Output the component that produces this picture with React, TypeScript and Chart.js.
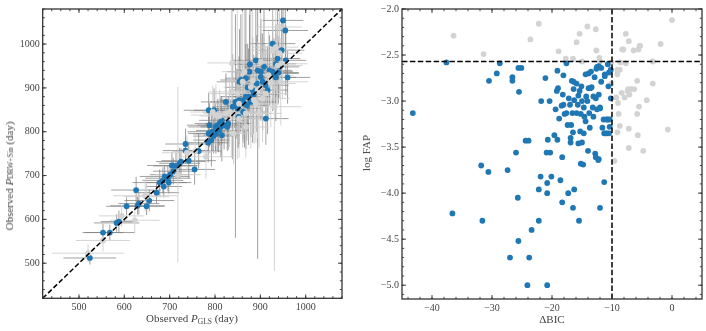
import React, { useEffect, useRef } from "react";
import { Chart, registerables } from "chart.js";
Chart.register(...registerables);

// ---------------- Left panel: observed periods ----------------
const blueGls = [524, 553, 568, 583, 588, 605, 626, 629, 632, 649, 655, 671, 678, 685, 689, 687, 696, 701, 705, 714, 722, 725, 735, 735, 742, 755, 764, 785, 786, 788, 786, 792, 794, 798, 801, 802, 806, 810, 813, 815, 815, 824, 827, 829, 839, 845, 848, 850, 853, 854, 852, 857, 861, 865, 868, 868, 872, 874, 876, 877, 879, 883, 890, 894, 901, 901, 905, 908, 912, 916, 927, 927, 930, 934, 938, 941, 947, 950, 955, 956, 960, 934, 912, 797, 808, 820, 862, 870, 885, 892, 920, 940, 698, 708];
const blueDrw = [512, 570, 570, 592, 595, 630, 667, 631, 636, 630, 643, 661, 684, 689, 698, 675, 694, 702, 723, 722, 728, 732, 772, 757, 734, 714, 756, 775, 849, 815, 796, 781, 800, 849, 811, 795, 815, 819, 811, 826, 792, 868, 811, 819, 857, 868, 864, 853, 872, 914, 834, 918, 872, 864, 880, 922, 901, 880, 937, 954, 868, 895, 963, 940, 937, 925, 914, 948, 830, 895, 1001, 937, 933, 924, 967, 948, 986, 1054, 1031, 963, 924, 955, 906, 790, 803, 815, 845, 860, 885, 910, 940, 935, 684, 710];
const blueGlsErr = [58, 45, 55, 50, 40, 45, 55, 60, 45, 40, 55, 50, 60, 45, 55, 40, 50, 45, 55, 50, 45, 55, 45, 50, 60, 45, 50, 45, 55, 50, 45, 40, 55, 45, 60, 50, 45, 55, 45, 50, 40, 55, 45, 50, 45, 55, 45, 50, 45, 50, 55, 45, 50, 45, 55, 45, 50, 45, 50, 45, 55, 45, 50, 45, 50, 45, 55, 45, 50, 45, 50, 45, 55, 45, 50, 45, 50, 45, 50, 45, 50, 45, 50, 45, 50, 45, 50, 45, 55, 45, 50, 45, 50, 45];
const blueDrwErrLo = [15, 20, 18, 20, 25, 20, 30, 20, 25, 20, 25, 25, 30, 30, 25, 25, 30, 25, 30, 30, 35, 30, 35, 30, 40, 35, 40, 45, 40, 50, 45, 60, 45, 50, 55, 45, 60, 50, 70, 55, 60, 65, 55, 60, 120, 310, 80, 90, 100, 80, 70, 120, 90, 100, 120, 90, 100, 110, 90, 100, 80, 120, 100, 430, 90, 100, 110, 90, 60, 100, 80, 90, 80, 100, 90, 70, 80, 60, 70, 80, 60, 90, 80, 40, 50, 55, 70, 80, 90, 110, 80, 70, 25, 30];
const blueDrwErrHi = [15, 20, 18, 20, 25, 20, 30, 20, 25, 20, 25, 25, 30, 30, 25, 25, 30, 25, 30, 30, 35, 30, 35, 30, 40, 35, 40, 45, 40, 50, 45, 60, 45, 50, 55, 45, 60, 50, 70, 55, 60, 65, 55, 60, 120, 200, 80, 90, 100, 120, 70, 150, 90, 100, 120, 160, 100, 110, 130, 150, 80, 120, 150, 150, 120, 100, 110, 130, 60, 100, 100, 90, 80, 100, 110, 70, 100, 60, 70, 80, 60, 90, 80, 40, 50, 55, 70, 80, 90, 110, 80, 70, 25, 30];

const greyGls = [520, 553, 594, 623, 646, 649, 718, 738, 756, 780, 795, 802, 810, 832, 836, 838, 841, 849, 853, 861, 865, 868, 879, 883, 886, 890, 894, 897, 901, 905, 912, 923, 927, 931, 934, 938, 942, 945, 949, 942, 918, 868, 853, 824];
const greyDrw = [523, 552, 608, 598, 654, 652, 702, 752, 755, 743, 845, 838, 836, 845, 891, 957, 796, 887, 830, 914, 937, 842, 902, 917, 872, 864, 895, 842, 959, 876, 887, 910, 986, 857, 993, 951, 1039, 914, 955, 979, 929, 811, 864, 842];
const greyGlsErr = [80, 60, 50, 55, 70, 50, 50, 55, 50, 60, 50, 55, 45, 60, 50, 55, 45, 60, 50, 55, 50, 55, 60, 50, 55, 50, 60, 50, 55, 60, 50, 55, 50, 60, 50, 55, 50, 60, 55, 50, 55, 50, 55, 50];
const greyDrwErrLo = [20, 25, 25, 30, 35, 30, 200, 40, 45, 50, 60, 70, 60, 80, 150, 120, 70, 150, 90, 150, 130, 80, 140, 120, 100, 90, 110, 80, 120, 100, 110, 100, 110, 375, 100, 90, 80, 100, 80, 90, 100, 70, 90, 70];
const greyDrwErrHi = [20, 25, 25, 30, 35, 30, 200, 40, 45, 50, 60, 70, 60, 80, 200, 150, 70, 200, 90, 170, 150, 80, 180, 160, 100, 90, 110, 80, 130, 100, 110, 100, 110, 100, 100, 90, 80, 100, 80, 90, 100, 70, 90, 70];

const leftRange = [420, 1080];
const leftTicks = [500, 600, 700, 800, 900, 1000];

// ---------------- Right panel: ΔBIC vs log FAP ----------------
const blueDbic = [-43.2, -37.6, -36.6, -31.8, -31.6, -30.6, -30.5, -29.2, -28.7, -27.4, -27.0, -26.6, -26.6, -26.0, -25.7, -25.6, -25.6, -25.1, -25.5, -24.4, -23.9, -24.1, -23.8, -23.4, -22.2, -22.2, -21.9, -21.8, -21.1, -20.9, -20.8, -20.8, -20.8, -20.7, -20.4, -20.3, -20.1, -19.6, -19.4, -19.1, -19.1, -19.2, -19.0, -18.8, -18.6, -18.4, -18.3, -18.3, -18.2, -18.1, -18.1, -17.9, -17.6, -17.6, -17.4, -17.3, -17.2, -17.0, -16.9, -16.9, -16.8, -16.7, -16.6, -16.5, -16.4, -16.4, -16.3, -16.3, -16.5, -15.9, -15.9, -15.7, -15.6, -15.6, -15.5, -15.4, -15.3, -15.2, -15.2, -15.1, -15.0, -15.0, -14.8, -14.7, -14.7, -14.6, -14.4, -14.4, -14.3, -14.1, -14.0, -13.9, -13.9, -13.8, -13.7, -13.6, -13.5, -13.4, -13.2, -13.1, -13.1, -12.9, -12.8, -12.7, -12.7, -12.6, -12.5, -12.5, -12.3, -12.2, -12.2, -12.2, -12.0, -12.0, -12.0, -11.8, -11.8, -11.6, -11.4, -11.3, -11.3, -11.2, -11.2, -11.1, -10.9, -10.8, -10.7, -10.7, -10.6, -10.5, -10.5, -10.4, -10.4, -10.2, -10.2];
const blueLogFap = [-3.13, -2.58, -4.22, -3.70, -4.30, -3.77, -2.78, -2.70, -2.59, -3.75, -4.70, -2.74, -2.78, -3.56, -4.05, -4.52, -2.64, -2.64, -2.90, -3.43, -3.43, -5.00, -4.70, -4.40, -3.96, -4.30, -3.82, -3.00, -2.75, -3.56, -4.00, -5.00, -3.89, -3.42, -3.00, -3.56, -3.82, -3.37, -3.09, -3.42, -2.67, -2.89, -2.86, -3.19, -3.86, -3.05, -4.10, -3.61, -2.93, -2.72, -3.04, -3.14, -2.59, -3.13, -3.26, -4.00, -2.97, -3.04, -3.40, -3.45, -3.26, -2.78, -3.13, -4.16, -2.87, -2.79, -2.99, -3.96, -3.34, -2.81, -3.13, -3.04, -2.94, -3.46, -4.30, -2.89, -3.33, -3.68, -3.14, -2.84, -3.45, -3.00, -3.69, -3.07, -3.35, -3.17, -2.71, -3.22, -2.95, -3.00, -3.54, -2.86, -2.70, -3.13, -3.29, -2.86, -2.68, -2.85, -3.07, -3.17, -2.95, -2.74, -3.57, -2.97, -3.61, -2.65, -2.63, -3.09, -3.64, -3.63, -2.93, -2.62, -4.16, -3.07, -3.08, -2.79, -2.64, -3.29, -3.20, -3.88, -3.35, -2.71, -2.73, -3.35, -3.20, -3.35, -3.20, -2.60, -2.84, -3.35, -2.69, -3.20, -3.28, -2.66, -2.97];
const greyDbic = [-36.4, -31.4, -23.6, -22.2, -18.9, -17.7, -16.5, -15.9, -15.4, -15.0, -14.1, -12.7, -12.6, -12.1, -12.0, -10.1, -10.1, -9.6, -9.3, -9.1, -9.1, -9.0, -8.9, -9.1, -8.7, -8.6, -8.4, -8.3, -8.1, -7.9, -7.7, -7.7, -7.4, -7.3, -7.2, -7.2, -7.2, -7.1, -6.8, -6.4, -6.3, -5.8, -5.8, -5.7, -5.6, -5.5, -5.4, -5.3, -4.8, -4.2, -3.2, -3.2, -1.9, -0.7, 0.0, -8.7];
const greyLogFap = [-2.29, -2.49, -2.33, -2.16, -2.46, -2.54, -2.54, -2.36, -2.27, -2.57, -2.19, -2.22, -2.45, -2.53, -2.57, -2.58, -2.81, -3.65, -2.96, -2.66, -2.71, -3.02, -3.14, -3.34, -3.27, -2.58, -2.91, -2.44, -2.44, -2.96, -2.27, -2.59, -2.89, -2.87, -3.51, -2.35, -3.30, -2.93, -2.87, -2.45, -2.87, -2.78, -3.14, -3.37, -2.44, -3.06, -2.40, -2.40, -3.54, -2.99, -2.81, -2.57, -2.38, -3.31, -2.12, -2.66];

const bicCut = -10;
const fapCut = -2.57;
const rightXRange = [-45, 5];
const rightYRange = [-5.15, -2.0];
const rightXTicks = [-40, -30, -20, -10, 0];
const rightYTicks = [-5.0, -4.5, -4.0, -3.5, -3.0, -2.5, -2.0];

// ---------------- styling ----------------
const BLUE = "#1f77b4";
const GREY = "#d3d3d3";
const FONT = "'Liberation Serif', 'DejaVu Serif', serif";
const TEXT = "#444444";

const minus = (s: string) => s.replace("-", "\u2212");

function framePlugin(minorX: number, minorY: number) {
  return {
    id: "frameTicks",
    afterDatasetsDraw(chart: any) {
      const { ctx, chartArea: a, scales } = chart;
      const xs = scales.x;
      const ys = scales.y;
      ctx.save();
      ctx.strokeStyle = "#333";
      ctx.lineWidth = 0.9;
      const seg = (x1: number, y1: number, x2: number, y2: number) => {
        ctx.beginPath();
        ctx.moveTo(x1, y1);
        ctx.lineTo(x2, y2);
        ctx.stroke();
      };
      const xTick = (v: number, len: number) => {
        const p = xs.getPixelForValue(v);
        seg(p, a.bottom, p, a.bottom - len);
        seg(p, a.top, p, a.top + len);
      };
      const yTick = (v: number, len: number) => {
        const p = ys.getPixelForValue(v);
        seg(a.left, p, a.left + len, p);
        seg(a.right, p, a.right - len, p);
      };
      const i0 = Math.ceil(xs.min / minorX - 1e-9);
      const i1 = Math.floor(xs.max / minorX + 1e-9);
      for (let i = i0; i <= i1; i++) xTick(i * minorX, 2.2);
      const j0 = Math.ceil(ys.min / minorY - 1e-9);
      const j1 = Math.floor(ys.max / minorY + 1e-9);
      for (let j = j0; j <= j1; j++) yTick(j * minorY, 2.2);
      xs.ticks.forEach((t: any) => xTick(t.value, 4));
      ys.ticks.forEach((t: any) => yTick(t.value, 4));
      ctx.lineWidth = 1.3;
      ctx.strokeRect(a.left, a.top, a.right - a.left, a.bottom - a.top);
      ctx.restore();
    },
  };
}

const errorBarPlugin = {
  id: "errorBars",
  beforeDatasetsDraw(chart: any) {
    const { ctx, chartArea: a, scales } = chart;
    const xs = scales.x;
    const ys = scales.y;
    ctx.save();
    ctx.beginPath();
    ctx.rect(a.left, a.top, a.right - a.left, a.bottom - a.top);
    ctx.clip();
    ctx.lineWidth = 1;
    const groups = [
      { x: blueGls, y: blueDrw, xe: blueGlsErr, lo: blueDrwErrLo, hi: blueDrwErrHi, color: "rgba(128,128,128,0.75)" },
      { x: greyGls, y: greyDrw, xe: greyGlsErr, lo: greyDrwErrLo, hi: greyDrwErrHi, color: "rgba(205,205,205,0.85)" },
    ];
    groups.forEach((g) => {
      ctx.strokeStyle = g.color;
      g.x.forEach((xv, i) => {
        const yv = g.y[i];
        const px = xs.getPixelForValue(xv);
        const py = ys.getPixelForValue(yv);
        ctx.beginPath();
        ctx.moveTo(xs.getPixelForValue(xv - g.xe[i]), py);
        ctx.lineTo(xs.getPixelForValue(xv + g.xe[i]), py);
        ctx.moveTo(px, ys.getPixelForValue(yv - g.lo[i]));
        ctx.lineTo(px, ys.getPixelForValue(yv + g.hi[i]));
        ctx.stroke();
      });
    });
    ctx.restore();
  },
};

const tickFont = { family: FONT, size: 10 };

function makeScale(range: number[], ticks: number[], fmt: (v: number) => string, size: number, isX: boolean) {
  return {
    type: "linear",
    min: range[0],
    max: range[1],
    bounds: "data",
    grid: { display: false, drawTicks: false },
    border: { display: false },
    afterBuildTicks: (s: any) => {
      s.ticks = ticks.map((v) => ({ value: v }));
    },
    afterFit: (s: any) => {
      if (isX) s.height = size;
      else s.width = size;
    },
    ticks: {
      font: tickFont,
      color: TEXT,
      padding: 3,
      autoSkip: false,
      maxRotation: 0,
      minRotation: 0,
      callback: (v: any) => fmt(Number(v)),
    },
  };
}

function LeftPanel() {
  const ref = useRef<HTMLCanvasElement>(null);
  useEffect(() => {
    const blue = blueGls.map((x, i) => ({ x, y: blueDrw[i] }));
    const grey = greyGls.map((x, i) => ({ x, y: greyDrw[i] }));
    const chart = new Chart(ref.current as HTMLCanvasElement, {
      type: "scatter",
      data: {
        datasets: [
          {
            data: leftRange.map((v) => ({ x: v, y: v })),
            showLine: true,
            borderColor: "#000",
            borderWidth: 1.5,
            borderDash: [5, 2.5],
            pointRadius: 0,
            order: 0,
          } as any,
          { data: grey, backgroundColor: GREY, borderWidth: 0, pointRadius: 2.9, order: 1 },
          { data: blue, backgroundColor: BLUE, borderWidth: 0, pointRadius: 2.9, order: 2 },
        ],
      },
      options: {
        responsive: false,
        animation: false,
        devicePixelRatio: 1,
        layout: { padding: { top: 7.3, right: 11, left: 0, bottom: 0 } },
        plugins: { legend: { display: false }, tooltip: { enabled: false } },
        scales: {
          x: makeScale(leftRange, leftTicks, (v) => String(v), 32.7, true),
          y: makeScale(leftRange, leftTicks, (v) => String(v), 42.7, false),
        } as any,
      },
      plugins: [errorBarPlugin, framePlugin(20, 20)],
    });
    return () => chart.destroy();
  }, []);
  return <canvas ref={ref} width={353} height={331} style={{ display: "block" }} />;
}

function RightPanel() {
  const ref = useRef<HTMLCanvasElement>(null);
  useEffect(() => {
    const blue = blueDbic.map((x, i) => ({ x, y: blueLogFap[i] }));
    const grey = greyDbic.map((x, i) => ({ x, y: greyLogFap[i] }));
    const chart = new Chart(ref.current as HTMLCanvasElement, {
      type: "scatter",
      data: {
        datasets: [
          {
            data: [{ x: bicCut, y: rightYRange[0] }, { x: bicCut, y: rightYRange[1] }],
            showLine: true,
            borderColor: "#000",
            borderWidth: 1.5,
            borderDash: [5.5, 2.4],
            pointRadius: 0,
            order: 0,
          } as any,
          {
            data: [{ x: rightXRange[0], y: fapCut }, { x: rightXRange[1], y: fapCut }],
            showLine: true,
            borderColor: "#000",
            borderWidth: 1.5,
            borderDash: [5.5, 2.4],
            pointRadius: 0,
            order: 0,
          } as any,
          { data: grey, backgroundColor: GREY, borderWidth: 0, pointRadius: 2.9, order: 2 },
          { data: blue, backgroundColor: BLUE, borderWidth: 0, pointRadius: 2.9, order: 1 },
        ],
      },
      options: {
        responsive: false,
        animation: false,
        devicePixelRatio: 1,
        layout: { padding: { top: 7.3, right: 4, left: 0, bottom: 0 } },
        plugins: { legend: { display: false }, tooltip: { enabled: false } },
        scales: {
          x: makeScale(rightXRange, rightXTicks, (v) => minus(String(v)), 32, true),
          y: makeScale(rightYRange, rightYTicks, (v) => minus(v.toFixed(1)), 49, false),
        } as any,
      },
      plugins: [framePlugin(2, 0.1)],
    });
    return () => chart.destroy();
  }, []);
  return <canvas ref={ref} width={353} height={331} style={{ display: "block" }} />;
}

const labelStyle: React.CSSProperties = {
  position: "absolute",
  fontFamily: FONT,
  fontSize: 11,
  fontWeight: 400,
  color: TEXT,
  whiteSpace: "nowrap",
  lineHeight: "12px",
};
const subStyle: React.CSSProperties = { fontSize: 7.5, verticalAlign: "-2px" };

export default function App() {
  return (
    <div style={{ position: "fixed", left: 0, top: 0, width: 706, height: 331, background: "#fff" }}>
      <div style={{ position: "absolute", left: 0, top: 0 }}>
        <LeftPanel />
      </div>
      <div style={{ position: "absolute", left: 353, top: 0 }}>
        <RightPanel />
      </div>
      <div style={{ ...labelStyle, left: 192, top: 320, transform: "translate(-50%,-50%)" }}>
        Observed <i>P</i>
        <span style={subStyle}>GLS</span> (day)
      </div>
      <div
        style={{
          ...labelStyle,
          left: 3,
          top: 176,
          writingMode: "vertical-rl",
          transform: "translateY(-50%) rotate(180deg)",
        }}
      >
        Observed <i>P</i>
        <span style={subStyle}>DRW+Sin</span> (day)
      </div>
      <div style={{ ...labelStyle, left: 552, top: 319, transform: "translate(-50%,-50%)" }}>ΔBIC</div>
      <div
        style={{
          ...labelStyle,
          left: 360,
          top: 153,
          writingMode: "vertical-rl",
          transform: "translateY(-50%) rotate(180deg)",
        }}
      >
        log FAP
      </div>
    </div>
  );
}
